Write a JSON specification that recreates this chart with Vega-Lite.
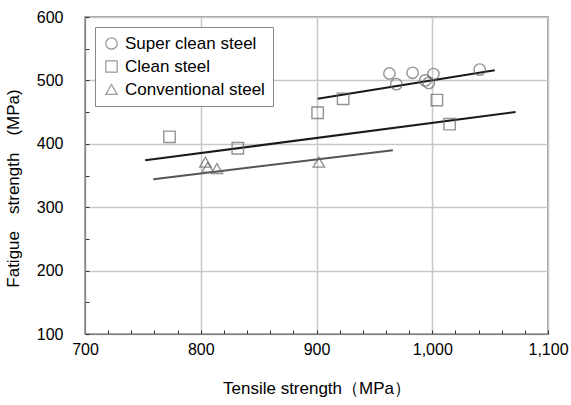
{
  "$schema": "https://vega.github.io/schema/vega-lite/v6.json",
  "width": 463,
  "height": 317,
  "autosize": "none",
  "padding": {"left": 85, "top": 17, "right": 23, "bottom": 71},
  "background": "white",
  "config": {
    "font": "Liberation Sans",
    "view": {"stroke": "#808080", "strokeWidth": 1.5}
  },
  "datasets": {
    "pts": [
      {"steel": "Super clean steel", "ts": 963, "fs": 511},
      {"steel": "Super clean steel", "ts": 969, "fs": 494},
      {"steel": "Super clean steel", "ts": 983, "fs": 512},
      {"steel": "Super clean steel", "ts": 994, "fs": 500},
      {"steel": "Super clean steel", "ts": 997, "fs": 496},
      {"steel": "Super clean steel", "ts": 1001, "fs": 510},
      {"steel": "Super clean steel", "ts": 1041, "fs": 517},
      {"steel": "Clean steel", "ts": 773, "fs": 411},
      {"steel": "Clean steel", "ts": 832, "fs": 393},
      {"steel": "Clean steel", "ts": 901, "fs": 449},
      {"steel": "Clean steel", "ts": 923, "fs": 471},
      {"steel": "Clean steel", "ts": 1004, "fs": 469},
      {"steel": "Clean steel", "ts": 1015, "fs": 431},
      {"steel": "Conventional steel", "ts": 804, "fs": 371},
      {"steel": "Conventional steel", "ts": 806, "fs": 363},
      {"steel": "Conventional steel", "ts": 814, "fs": 361},
      {"steel": "Conventional steel", "ts": 902, "fs": 371}
    ],
    "fits": [
      {"steel": "Super clean steel", "ts": 901, "fs": 471},
      {"steel": "Super clean steel", "ts": 1054, "fs": 516},
      {"steel": "Clean steel", "ts": 752, "fs": 374},
      {"steel": "Clean steel", "ts": 1072, "fs": 450},
      {"steel": "Conventional steel", "ts": 759, "fs": 344},
      {"steel": "Conventional steel", "ts": 966, "fs": 390}
    ]
  },
  "encoding": {
    "x": {
      "field": "ts", "type": "quantitative",
      "scale": {"domain": [700, 1100], "nice": false, "zero": false},
      "axis": {
        "title": "Tensile strength（MPa）",
        "values": [700,720,740,760,780,800,820,840,860,880,900,920,940,960,980,1000,1020,1040,1060,1080,1100],
        "labelExpr": "datum.value % 100 === 0 ? format(datum.value, ',') : ''",
        "labelOverlap": false,
        "labelFontSize": 16,
        "labelColor": "#000",
        "labelPadding": 11,
        "labelFlush": false,
        "tickSize": -4,
        "tickColor": "#333",
        "domainColor": "#808080",
        "grid": true,
        "gridColor": "#c8c8c8",
        "gridWidth": 1.5,
        "gridOpacity": {"condition": {"test": "datum.value % 100 === 0", "value": 1}, "value": 0},
        "titleFontSize": 17,
        "titleFontWeight": "normal",
        "titleColor": "#000",
        "titlePadding": 23
      }
    },
    "y": {
      "field": "fs", "type": "quantitative",
      "scale": {"domain": [100, 600], "nice": false, "zero": false},
      "axis": {
        "title": "Fatigue　strength　(MPa)",
        "values": [100,150,200,250,300,350,400,450,500,550,600],
        "labelExpr": "datum.value % 100 === 0 ? format(datum.value, 'd') : ''",
        "labelOverlap": false,
        "labelFontSize": 16,
        "labelColor": "#000",
        "labelPadding": 26,
        "labelFlush": false,
        "tickSize": -4,
        "tickColor": "#333",
        "domainColor": "#808080",
        "grid": true,
        "gridColor": "#c8c8c8",
        "gridWidth": 1.5,
        "gridOpacity": {"condition": {"test": "datum.value % 100 === 0", "value": 1}, "value": 0},
        "titleFontSize": 17,
        "titleFontWeight": "normal",
        "titleColor": "#000",
        "titlePadding": 14,
        "titleY": 171
      }
    }
  },
  "layer": [
    {
      "data": {"name": "fits"},
      "mark": {"type": "line", "strokeWidth": 2},
      "encoding": {
        "detail": {"field": "steel"},
        "color": {
          "field": "steel", "type": "nominal",
          "scale": {"domain": ["Super clean steel", "Clean steel", "Conventional steel"], "range": ["#1a1a1a", "#1a1a1a", "#555555"]},
          "legend": null
        }
      }
    },
    {
      "data": {"name": "pts"},
      "mark": {"type": "point", "filled": false, "color": "#666666", "strokeWidth": 1.4, "size": 130},
      "encoding": {
        "shape": {
          "field": "steel", "type": "nominal",
          "scale": {"domain": ["Super clean steel", "Clean steel", "Conventional steel"], "range": ["circle", "square", "triangle-up"]},
          "legend": {
            "title": null,
            "orient": "top-left",
            "offset": 10,
            "strokeColor": "#888888",
            "fillColor": "white",
            "padding": 8,
            "rowPadding": 5,
            "symbolSize": 130,
            "symbolStrokeColor": "#6e6e6e",
            "symbolStrokeWidth": 1.2,
            "labelFontSize": 17,
            "labelColor": "#000",
            "labelOffset": 5,
            "labelLimit": 300
          }
        }
      }
    }
  ],
  "resolve": {"scale": {"color": "independent", "shape": "independent"}}
}
